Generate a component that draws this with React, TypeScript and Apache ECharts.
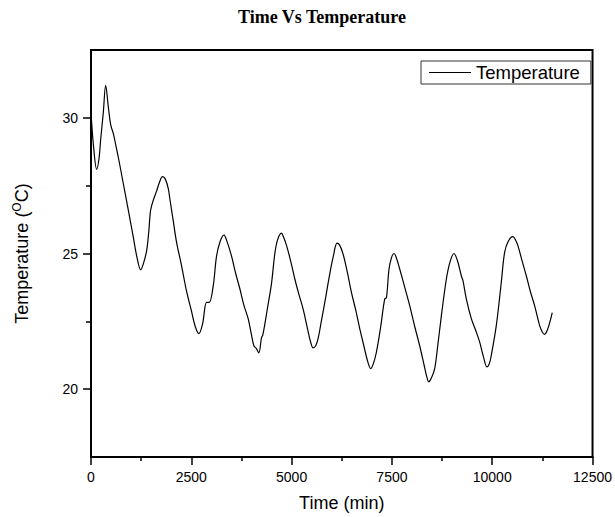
import React, { useEffect, useRef } from "react";
import * as echarts from "echarts";

const timeMin: number[] = [
  0, 60, 142, 200, 241, 307, 366, 432, 490, 560, 623, 700, 789, 930, 1054, 1154, 1237, 1300, 1386, 1440,
  1486, 1560, 1635, 1700, 1784, 1850, 1925, 1967, 2050, 2134, 2250, 2383, 2500, 2600, 2689, 2780, 2881, 2946,
  3046, 3129, 3220, 3312, 3400, 3503, 3600, 3710, 3810, 3917, 4000, 4059, 4120, 4183, 4250, 4283, 4400, 4499,
  4582, 4650, 4748, 4800, 4873, 4980, 5080, 5180, 5286, 5400, 5480, 5536, 5600, 5660, 5740, 5827, 5951, 6040,
  6133, 6200, 6283, 6390, 6491, 6600, 6698, 6800, 6900, 6972, 7040, 7114, 7220, 7321, 7363, 7428, 7490, 7553,
  7620, 7694, 7820, 7943, 8070, 8192, 8300, 8370, 8416, 8480, 8566, 8650, 8732, 8857, 8950, 9047, 9130, 9230,
  9271, 9354, 9479, 9580, 9686, 9780, 9869, 9930, 9977, 10102, 10226, 10309, 10400, 10517, 10580, 10640, 10750,
  10849, 10950, 11056, 11180, 11250, 11305, 11387, 11496,
];

const temperature: number[] = [
  30.2, 29.0, 28.1, 28.5, 29.2, 30.2, 31.2, 30.4, 29.75, 29.4, 28.96, 28.4, 27.7, 26.6, 25.6, 24.8, 24.4, 24.6, 25.1, 25.8,
  26.6, 27.0, 27.3, 27.6, 27.83, 27.75, 27.4, 27.0, 26.2, 25.4, 24.6, 23.6, 22.9, 22.3, 22.05, 22.4, 23.2, 23.2,
  23.8, 24.9, 25.45, 25.68, 25.4, 24.9, 24.3, 23.7, 23.1, 22.6, 22.0, 21.6, 21.5, 21.34, 21.9, 22.0, 23.0, 23.9,
  25.0, 25.5, 25.75, 25.6, 25.3, 24.7, 24.06, 23.5, 22.96, 22.2, 21.7, 21.52, 21.6, 21.86, 22.5, 23.2, 24.25, 24.9,
  25.38, 25.3, 24.98, 24.3, 23.57, 22.9, 22.23, 21.6, 21.0, 20.76, 20.95, 21.37, 22.3, 23.33, 23.36, 24.43, 24.85, 25.0,
  24.8, 24.43, 23.75, 23.08, 22.3, 21.6, 20.9, 20.45, 20.27, 20.4, 20.76, 21.7, 22.7, 24.06, 24.7, 25.0, 24.75, 24.18,
  24.0, 23.33, 22.6, 22.2, 21.74, 21.2, 20.82, 20.95, 21.25, 22.35, 23.94, 25.04, 25.45, 25.62, 25.5, 25.29, 24.7,
  24.18, 23.6, 23.08, 22.35, 22.1, 22.02, 22.23, 22.82,
];

const yLabelValues: number[] = [20, 25, 30];
const yMinorValues: number[] = [22.5, 27.5];

export default function App() {
  const ref = useRef<HTMLDivElement>(null);
  useEffect(() => {
    if (!ref.current) return;
    const chart = echarts.init(ref.current, undefined, { renderer: "svg" });
    const font = "Liberation Sans, Arial, sans-serif";
    const axisLine = { show: true, lineStyle: { color: "#000", width: 2 } };
    chart.setOption({
      animation: false,
      backgroundColor: "#fff",
      title: {
        text: "Time Vs Temperature",
        left: 238,
        top: 8,
        padding: 0,
        textStyle: { fontFamily: "Liberation Serif, Times New Roman, serif", fontWeight: "bold", fontSize: 18, color: "#000" },
      },
      legend: {
        show: true,
        left: 421,
        top: 61,
        padding: [2, 11, 2, 8],
        borderColor: "#333",
        borderWidth: 1,
        itemWidth: 42,
        itemHeight: 14,
        textStyle: { fontFamily: font, fontSize: 18.5, color: "#000" },
        data: [{ name: "Temperature", icon: "path://M0,0 L42,0 L42,1 L0,1 Z", itemStyle: { color: "#000" } }],
      },
      grid: { left: 91, right: 22, top: 50, bottom: 59, show: true, borderColor: "#000", borderWidth: 2, backgroundColor: "transparent" },
      xAxis: {
        type: "value",
        min: 0,
        max: 12500,
        interval: 2500,
        name: "Time (min)",
        nameLocation: "middle",
        nameGap: 37,
        nameTextStyle: { fontFamily: font, fontSize: 18, color: "#000" },
        axisLine,
        axisTick: { show: true, inside: false, length: 8, lineStyle: { color: "#000", width: 1.5 } },
        minorTick: { show: true, splitNumber: 2, length: 4, lineStyle: { color: "#000", width: 1.5 } },
        splitLine: { show: false },
        minorSplitLine: { show: false },
        axisLabel: { fontFamily: font, fontSize: 14, color: "#000", margin: 13, formatter: (v: number) => String(v) },
      },
      yAxis: [
        {
          type: "value",
          min: 17.5,
          max: 32.5,
          position: "left",
          name: "Temperature ({sup|O}C)",
          nameLocation: "middle",
          nameGap: 58,
          nameRotate: 90,
          nameTextStyle: {
            fontFamily: font,
            fontSize: 18,
            color: "#000",
            rich: { sup: { fontFamily: font, fontSize: 12, color: "#000", padding: [0, 0, 10, 0] } },
          },
          axisLine,
          axisTick: { show: true, inside: false, length: 8, customValues: yLabelValues, lineStyle: { color: "#000", width: 1.5 } },
          axisLabel: { fontFamily: font, fontSize: 14, color: "#000", margin: 13, customValues: yLabelValues },
          splitLine: { show: false },
        },
        {
          type: "value",
          min: 17.5,
          max: 32.5,
          position: "left",
          axisLine: { show: false },
          axisTick: { show: true, inside: false, length: 5, customValues: yMinorValues, lineStyle: { color: "#000", width: 1.5 } },
          axisLabel: { show: false },
          splitLine: { show: false },
        },
      ],
      series: [
        {
          name: "Temperature",
          type: "line",
          yAxisIndex: 0,
          data: timeMin.map((t, i) => [t, temperature[i]]),
          symbol: "none",
          smooth: 0.35,
          lineStyle: { color: "#000", width: 1.2 },
          itemStyle: { color: "#000" },
        },
      ],
    });
    return () => chart.dispose();
  }, []);
  return <div ref={ref} style={{ position: "fixed", left: 0, top: 0, width: 615, height: 517 }} />;
}
